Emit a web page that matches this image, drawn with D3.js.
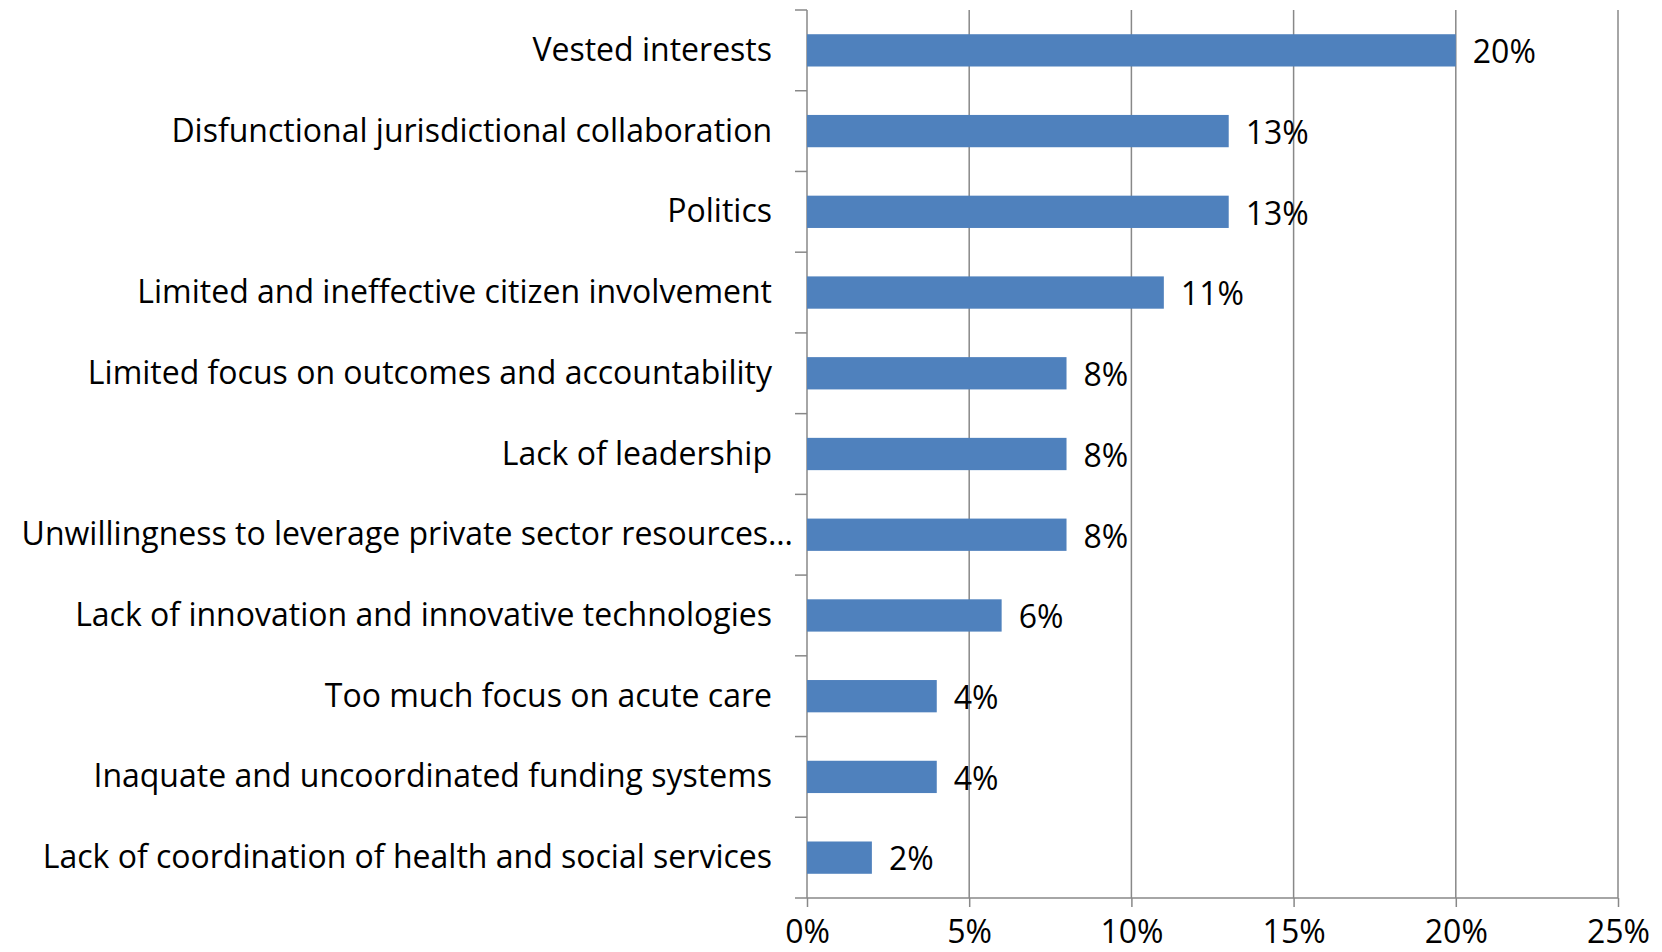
<!DOCTYPE html>
<html>
  <head>
    <style>
      body {
        margin: 0;
        background: #fff;
        font-family: "Open Sans", sans-serif;
      }
      .grid line {
        stroke: #888;
        stroke-width: 1.5px;
      }
      .axis path, .axis line {
        stroke: #888;
        stroke-width: 1.5px;
      }
      .bar {
        fill: #4f81bd;
      }
      text {
        fill: #000;
      }
    </style>
  </head>
  <body>
    <svg id="chart"></svg>
    <script src="https://d3js.org/d3.v7.min.js"></script>
    <script>
    // data
      var categories = [
        "Vested interests",
        "Disfunctional jurisdictional collaboration",
        "Politics",
        "Limited and ineffective citizen involvement",
        "Limited focus on outcomes and accountability",
        "Lack of leadership",
        "Unwillingness to leverage private sector resources…",
        "Lack of innovation and innovative technologies",
        "Too much focus on acute care",
        "Inaquate and uncoordinated funding systems",
        "Lack of coordination of health and social services"
      ];
      var values = [20, 13, 13, 11, 8, 8, 8, 6, 4, 4, 2];
      var xTicks = [0, 5, 10, 15, 20, 25];

      var width = 1662, height = 952;
      var margin = {left: 807, right: 44, top: 10, bottom: 54};
      var fontSize = 32;

      var svg = d3.select("#chart")
          .attr("width", width)
          .attr("height", height);
      var g = svg.append("g")
          .attr("transform", "translate(" + [margin.left, margin.top] + ")");

      var w = width - margin.left - margin.right,
          h = height - margin.top - margin.bottom;

    //scales
      var x = d3.scaleLinear().domain([0, 25]).range([0, w]);
      var y = d3.scaleBand().domain(categories).range([0, h]).paddingInner(0.6).paddingOuter(0.3);

    //vertical gridlines
      g.append("g").attr("class", "grid")
        .selectAll("line")
        .data(xTicks.slice(1))
        .enter().append("line")
          .attr("x1", d => x(d)).attr("x2", d => x(d))
          .attr("y1", 0).attr("y2", h);

    //x axis at bottom
      var xAxis = g.append("g").attr("class", "axis")
          .attr("transform", "translate(0," + h + ")")
          .call(d3.axisBottom(x).tickValues(xTicks).tickFormat(d => d + "%").tickSize(9).tickSizeOuter(0));
      xAxis.select(".domain").attr("d", "M-12,0H" + w);
      xAxis.selectAll("text")
          .attr("dy", 0)
          .attr("y", 45)
          .style("font-family", "Open Sans")
          .style("font-size", fontSize + "px");

    //y axis: line with ticks between categories
      var step = y.step();
      g.append("line")
          .attr("class", "axis-line")
          .attr("x1", 0).attr("x2", 0).attr("y1", 0).attr("y2", h)
          .style("stroke", "#888").style("stroke-width", 1.5);
      g.append("g").attr("class", "grid")
        .selectAll("line")
        .data(d3.range(categories.length))
        .enter().append("line")
          .attr("x1", -12).attr("x2", 0)
          .attr("y1", i => i * step).attr("y2", i => i * step);

    //bars
      g.selectAll(".bar")
          .data(values)
        .enter().append("rect")
          .attr("class", "bar")
          .attr("x", 0)
          .attr("y", (d, i) => y(categories[i]))
          .attr("width", d => x(d))
          .attr("height", y.bandwidth());

    //category labels
      g.selectAll(".cat")
          .data(categories)
        .enter().append("text")
          .attr("class", "cat")
          .attr("x", d => d.endsWith("…") ? -14 : -35)
          .attr("y", d => y(d) + y.bandwidth() / 2)
          .attr("dy", "0.33em")
          .attr("text-anchor", "end")
          .style("font-size", fontSize + "px")
          .text(d => d);

    //value labels
      g.selectAll(".val")
          .data(values)
        .enter().append("text")
          .attr("class", "val")
          .attr("x", d => x(d) + 17)
          .attr("y", (d, i) => y(categories[i]) + y.bandwidth() / 2)
          .attr("dy", "0.4em")
          .style("font-size", fontSize + "px")
          .text(d => d + "%");
    </script>
  </body>
</html>
